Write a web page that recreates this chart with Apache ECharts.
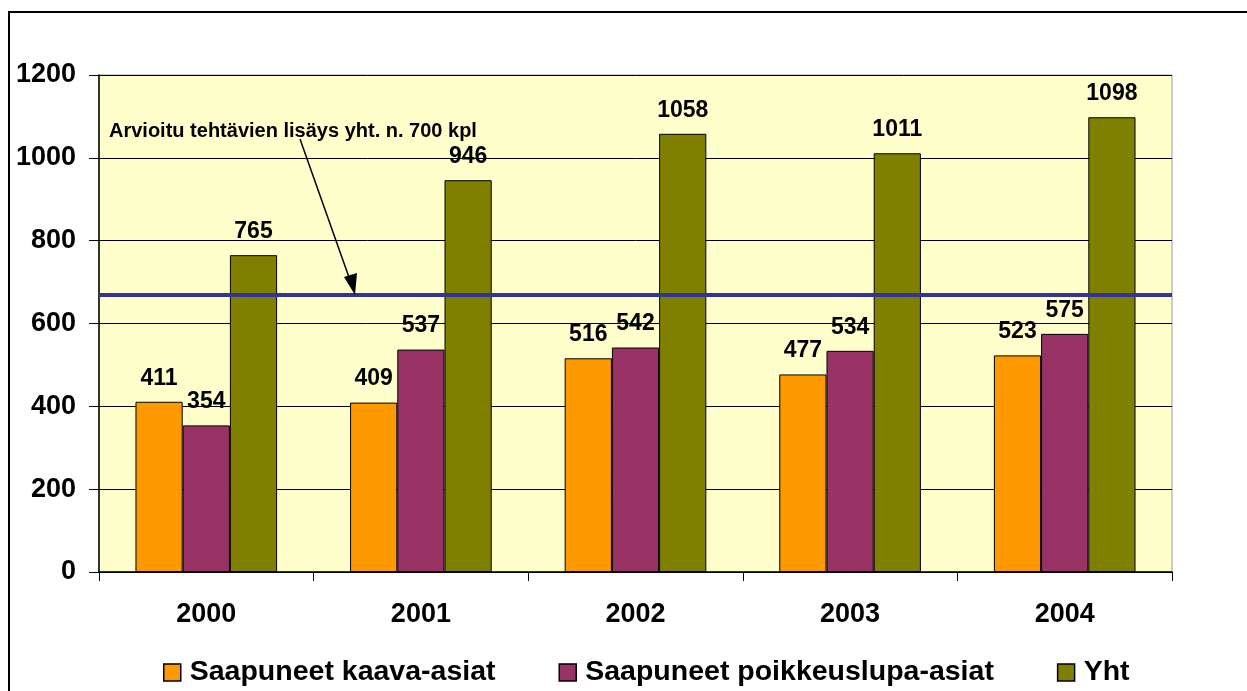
<!DOCTYPE html>
<html>
<head>
<meta charset="utf-8">
<script src="https://cdn.jsdelivr.net/npm/echarts@6/dist/echarts.min.js"></script>
<style>
  html, body { margin: 0; padding: 0; background: #fff; }
  #chart { width: 1247px; height: 691px; }
</style>
</head>
<body>
<div id="chart"></div>
<script>
  var years = ['2000', '2001', '2002', '2003', '2004'];
  var kaava = [411, 409, 516, 477, 523];
  var poikkeus = [354, 537, 542, 534, 575];
  var yht = [765, 946, 1058, 1011, 1098];
  var estimate = 669;
  var yTicks = [0, 200, 400, 600, 800, 1000, 1200];

  var font = "'Liberation Sans', Arial, sans-serif";

  function barSeries(name, data, color) {
    return {
      name: name,
      type: 'bar',
      data: data,
      barGap: '0%',
      barCategoryGap: '34%',
      itemStyle: {color: color, borderColor: '#000', borderWidth: 1},
      label: {
        show: true,
        position: 'top',
        distance: 12,
        color: '#000',
        fontFamily: font,
        fontWeight: 'bold',
        fontSize: 23
      }
    };
  }

  var series = [
    barSeries('Saapuneet kaava-asiat', kaava, '#FF9900'),
    barSeries('Saapuneet poikkeuslupa-asiat', poikkeus, '#993366'),
    barSeries('Yht', yht, '#808000')
  ];
  series[2].markLine = {
    silent: true,
    symbol: 'none',
    label: {show: false},
    lineStyle: {color: '#333399', width: 4, type: 'solid'},
    data: [{yAxis: estimate}]
  };

  var option = {
    animation: false,
    textStyle: {fontFamily: font},
    grid: {
      left: 99, top: 75, right: 75, bottom: 119,
      show: true,
      backgroundColor: '#FFFFCC',
      borderColor: '#999',
      borderWidth: 1
    },
    legend: {
      top: 653,
      left: 158,
      itemWidth: 17,
      itemHeight: 17,
      itemGap: 63,
      icon: 'rect',
      itemStyle: {borderColor: '#000', borderWidth: 1.5},
      textStyle: {
        fontFamily: font, fontWeight: 'bold', fontSize: 28.5, color: '#000',
        padding: [0, 0, 0, 4]
      },
      data: series.map(function (s) { return s.name; })
    },
    xAxis: {
      type: 'category',
      data: years,
      axisLine: {lineStyle: {color: '#000', width: 1.5}},
      axisTick: {show: true, length: 9, lineStyle: {color: '#000'}},
      axisLabel: {margin: 29, color: '#000', fontFamily: font, fontWeight: 'bold', fontSize: 27}
    },
    yAxis: {
      type: 'value',
      min: 0,
      max: yTicks[yTicks.length - 1],
      interval: 200,
      axisLine: {show: true, lineStyle: {color: '#000', width: 1.5}},
      axisTick: {show: true, length: 10, lineStyle: {color: '#000'}},
      axisLabel: {
        margin: 23, color: '#000', fontFamily: font, fontWeight: 'bold', fontSize: 27,
        formatter: function (v) { return String(v); }
      },
      splitLine: {lineStyle: {color: '#000', width: 1}}
    },
    graphic: [
      {
        type: 'rect',
        shape: {x: 9, y: 12, width: 1260, height: 700},
        style: {fill: null, stroke: '#000', lineWidth: 2},
        z: 0
      },
      {
        type: 'text',
        left: 109, top: 121,
        style: {
          text: 'Arvioitu tehtävien lisäys yht. n. 700 kpl',
          font: 'bold 20px ' + font,
          fill: '#000'
        },
        z: 10
      },
      {
        type: 'line',
        shape: {x1: 300, y1: 139, x2: 351, y2: 283},
        style: {stroke: '#000', lineWidth: 1.5},
        z: 10
      },
      {
        type: 'polygon',
        shape: {points: [[355, 295], [344, 277], [357, 273]]},
        style: {fill: '#000'},
        z: 10
      }
    ],
    series: series
  };

  echarts.init(document.getElementById('chart')).setOption(option);
</script>
</body>
</html>
